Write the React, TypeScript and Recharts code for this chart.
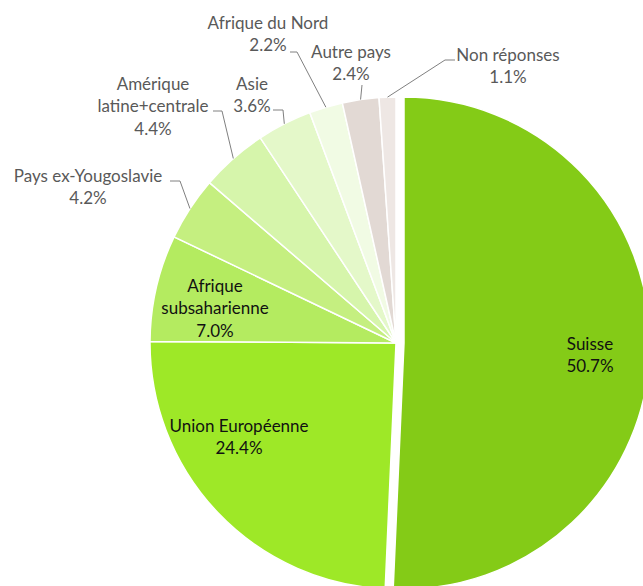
import { PieChart, Pie, Cell } from "recharts"

const categories = [
	"Suisse",
	"Union Européenne",
	"Afrique subsaharienne",
	"Pays ex-Yougoslavie",
	"Amérique latine+centrale",
	"Asie",
	"Afrique du Nord",
	"Autre pays",
	"Non réponses",
]
const shares = [50.7, 24.4, 7.0, 4.2, 4.4, 3.6, 2.2, 2.4, 1.1]
const colors = ["#84cb17", "#9ee827", "#b4eb60", "#c5ef80", "#d6f5ab", "#e4f8c9", "#f1fbe4", "#e2d9d4", "#eee7e4"]

const data = categories.map((name, i) => ({ name, value: shares[i] }))

// label placement, relative to the pie centre
type Layout = { x: number; y: number; wrap?: boolean; inside?: boolean; elbow?: [number, number]; stub?: [number, number] }
const labelLayout: Record<string, Layout> = {
	"Suisse": { x: 186, y: 0, inside: true },
	"Union Européenne": { x: -157, y: 82, inside: true },
	"Afrique subsaharienne": { x: -181, y: -58, inside: true, wrap: true },
	"Pays ex-Yougoslavie": { x: -308, y: -168, elbow: [-216, -162], stub: [-226, -162] },
	"Amérique latine+centrale": { x: -243, y: -260, wrap: true, elbow: [-174, -232], stub: [-183, -232] },
	"Asie": { x: -144, y: -260, elbow: [-113, -233], stub: [-123, -233] },
	"Afrique du Nord": { x: -128, y: -321, elbow: [-99, -291], stub: [-106, -291] },
	"Autre pays": { x: -45, y: -292, elbow: [-34, -258] },
	"Non réponses": { x: 112, y: -289, elbow: [49, -283], stub: [59, -283] },
}

const RAD = Math.PI / 180
const LINE = 22.5

const makeLabel = (exploded: boolean) => (props: any) => {
	const { cx, cy, midAngle, outerRadius, payload, value } = props
	const name = payload.name
	if ((name === categories[0]) !== exploded) return null
	const lay = labelLayout[name]
	const lines = lay.wrap ? [name.slice(0, name.indexOf(" ")), name.slice(name.indexOf(" ") + 1)] : [name]
	lines.push(`${Number(value).toFixed(1)}%`)
	const ex = cx + outerRadius * Math.cos(-midAngle * RAD)
	const ey = cy + outerRadius * Math.sin(-midAngle * RAD)
	let path = ""
	if (lay.elbow) {
		path = `M${ex},${ey}L${cx + lay.elbow[0]},${cy + lay.elbow[1]}`
		if (lay.stub) path += `L${cx + lay.stub[0]},${cy + lay.stub[1]}`
	}
	return (
		<g>
			{path && <path d={path} stroke="#808080" strokeWidth={1} fill="none" />}
			{lines.map((t, i) => (
				<text
					key={i}
					x={cx + lay.x}
					y={cy + lay.y + i * LINE}
					textAnchor="middle"
					dominantBaseline="central"
					fill={lay.inside ? "#111" : "#595959"}
					fontSize={17}
					fontFamily="Lato"
				>
					{t}
				</text>
			))}
		</g>
	)
}

function App() {
	return (
		<div>
			<style>{"body{margin:0}"}</style>
			<PieChart width={643} height={586} margin={{ top: 0, right: 0, bottom: 0, left: 0 }}>
				<Pie
					data={data}
					dataKey="value"
					nameKey="name"
					cx={396}
					cy={343}
					outerRadius={246}
					startAngle={90}
					endAngle={-270}
					stroke="#fff"
					strokeWidth={1.5}
					labelLine={false}
					label={makeLabel(false)}
					isAnimationActive={false}
				>
					{data.map((d, i) => (
						<Cell key={d.name} fill={i === 0 ? "none" : colors[i]} stroke={i === 0 ? "none" : "#fff"} />
					))}
				</Pie>
				<Pie
					data={data}
					dataKey="value"
					nameKey="name"
					cx={404}
					cy={343}
					outerRadius={246}
					startAngle={90}
					endAngle={-270}
					stroke="#fff"
					strokeWidth={1.5}
					labelLine={false}
					label={makeLabel(true)}
					isAnimationActive={false}
				>
					{data.map((d, i) => (
						<Cell key={d.name} fill={i === 0 ? colors[0] : "none"} stroke={i === 0 ? "#fff" : "none"} />
					))}
				</Pie>
			</PieChart>
		</div>
	)
}

export default App
